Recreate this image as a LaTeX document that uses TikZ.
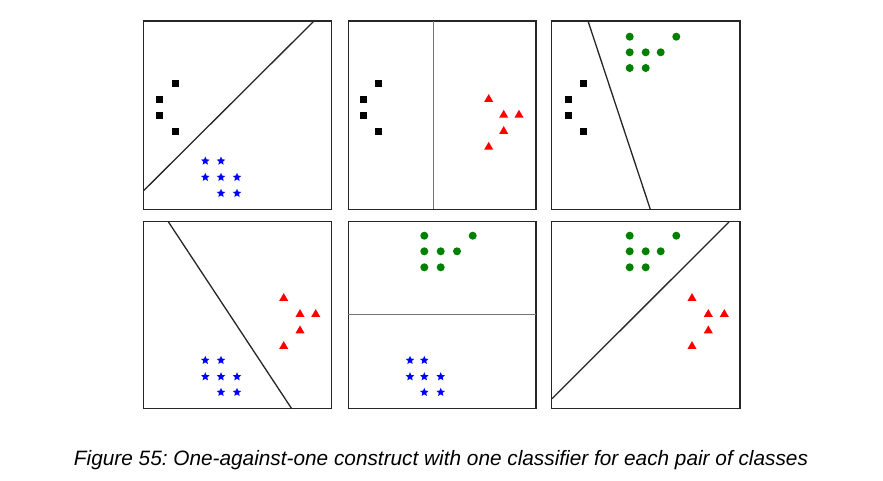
\documentclass[tikz,border=0pt]{standalone}
\usepackage{fontspec}
\setmainfont{Liberation Sans}
\usetikzlibrary{shapes.geometric}
\frenchspacing
\tikzset{
  frame/.style={draw=black!85, line width=1.3pt},
  sepline/.style={draw=black!85, line width=1.3pt},
  axline/.style={draw=black!55, line width=1.6pt},
  sqmark/.style={fill=black, draw=none, inner sep=0pt, minimum size=7pt, rectangle},
  starmark/.style={fill=blue, draw=none, inner sep=0pt, minimum size=9pt, star, star points=5, star point ratio=2.2},
  circmark/.style={fill=green!50!black, draw=none, inner sep=0pt, minimum size=8pt, circle},
  trimark/.style={fill=red, draw=none, inner sep=0pt, minimum size=10.5pt, regular polygon, regular polygon sides=3},
}
\begin{document}
\begin{tikzpicture}[x=1pt,y=-1pt]
\useasboundingbox[fill=white] (0,0) rectangle (883,480);
% frames
\draw[frame] (143.3,21) rectangle (331.7,209.3);
\draw[frame] (348.3,21) rectangle (536,209.3);
\draw[frame] (551.3,21) rectangle (740,209.3);
\draw[frame] (143.3,221.7) rectangle (331.7,408.7);
\draw[frame] (348.3,221.7) rectangle (536,408.7);
\draw[frame] (551.3,221.7) rectangle (740,408.7);
% separating lines
\draw[sepline] (143.3,191) -- (314,21);
\draw[axline] (433.3,21) -- (433.3,209.3);
\draw[sepline] (588,21) -- (650.3,209.3);
\draw[sepline] (168.3,221.7) -- (291.7,408.7);
\draw[axline] (348.3,314.3) -- (536,314.3);
\draw[sepline] (552,398.7) -- (729,222);
% squares
\foreach \p in {(175.7,83.7),(159.7,99.7),(159.7,115.3),(175.7,131.7),
                (378.7,83.7),(363,99.7),(363,115.3),(378.7,131.7),
                (583.7,83.7),(568,99.7),(568,115.3),(583.7,131.7)}
  \node[sqmark] at \p {};
% stars
\foreach \p in {(205.3,161),(221,161),(205.3,177.3),(221,177.3),(237,177.3),(221,193.3),(237,193.3),
                (205.3,360.3),(221,360.3),(205.3,376.7),(221,376.7),(237,376.7),(221,392.3),(237,392.3),
                (410,360.3),(424.3,360.3),(410,376.7),(424.3,376.7),(440.7,376.7),(424.3,392.3),(440.7,392.3)}
  \node[starmark] at \p {};
% circles
\foreach \p in {(629.7,36.7),(676.3,36.7),(629.7,52.3),(645.7,52.3),(660.7,52.3),(629.7,68),(645.7,68),
                (424.3,235.7),(472.7,235.7),(424.3,251.3),(440.7,251.3),(457,251.3),(424.3,267.3),(440.7,267.3),
                (629.7,235.7),(676.3,235.7),(629.7,251.3),(645.7,251.3),(660.7,251.3),(629.7,267.3),(645.7,267.3)}
  \node[circmark] at \p {};
% triangles
\foreach \p in {(488.7,99.3),(503.7,115),(519,115),(503.7,131.3),(488.7,147),
                (283.7,298.3),(300,314.3),(315.7,314.3),(300,330.7),(283.7,346.3),
                (692,298.3),(708.3,314.3),(724.3,314.3),(708.3,330.7),(692,346.3)}
  \node[trimark] at \p {};
% caption
\node[anchor=base, inner sep=0pt] (caption) at (441,465)
  {\resizebox{734pt}{!}{\itshape Figure 55: One-against-one construct with one classifier for each pair of classes}};
\end{tikzpicture}
\end{document}
